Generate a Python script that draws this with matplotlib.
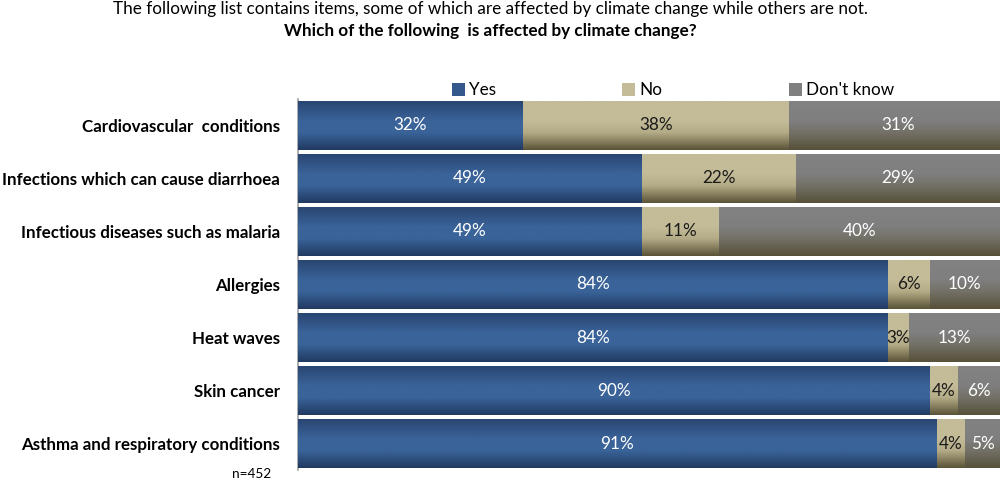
import matplotlib
matplotlib.use("Agg")
import matplotlib.pyplot as plt
import numpy as np
from matplotlib.colors import LinearSegmentedColormap
from matplotlib.patches import Patch

categories = ["Cardiovascular  conditions",
              "Infections which can cause diarrhoea",
              "Infectious diseases such as malaria",
              "Allergies",
              "Heat waves",
              "Skin cancer",
              "Asthma and respiratory conditions"]
yes = [32, 49, 49, 84, 84, 90, 91]
no = [38, 22, 11, 6, 3, 4, 4]
dont_know = [31, 29, 40, 10, 13, 6, 5]
series_names = ["Yes", "No", "Don't know"]

plt.rcParams['font.family'] = ['Lato', 'DejaVu Sans']

# gradient stops (top -> middle -> bottom)
grads = {
    "Yes": ["#2a4672", "#3a6399", "#3a6399", "#213a62"],
    "No": ["#c4bc98", "#c4bc98", "#b3ab86", "#5b5337"],
    "Don't know": ["#828282", "#7f7f7f", "#737066", "#57513a"],
}
solid = {"Yes": "#35588c", "No": "#c4bc98", "Don't know": "#7f7f7f"}
txtcol = {"Yes": "white", "No": "#1a1a1a", "Don't know": "white"}

fig = plt.figure(figsize=(10, 4.8), dpi=100)
ax = fig.add_axes([0.298, 0.0208, 0.702, 0.773])

y = np.arange(len(categories))
h = 0.92
left = np.zeros(len(categories))
grad_img = np.linspace(0, 1, 100).reshape(-1, 1)
for name, vals in zip(series_names, [yes, no, dont_know]):
    cmap = LinearSegmentedColormap.from_list(name, list(zip([0, 0.4, 0.65, 1.0], grads[name])))
    bars = ax.barh(y, vals, left=left, height=h, color=solid[name], edgecolor="none", zorder=2)
    for b, v, l in zip(bars, vals, left):
        x0, y0 = b.get_x(), b.get_y()
        im = ax.imshow(grad_img, cmap=cmap, aspect='auto',
                       extent=[x0, x0 + b.get_width(), y0 + b.get_height(), y0],
                       origin='upper', zorder=3, interpolation='bilinear')
        im.set_clip_path(b)
        ax.text(l + v / 2, b.get_y() + b.get_height() / 2, f"{v}%",
                ha='center', va='center', color=txtcol[name], fontsize=12.3, zorder=4)
    left = left + np.array(vals)

ax.set_xlim(0, 100)
ax.set_ylim(len(categories) - 0.5, -0.5)
ax.set_yticks(y)
ax.set_yticklabels(categories, fontweight='bold', fontsize=12.2)
ax.tick_params(axis='y', length=0, pad=13)
ax.set_xticks([])
for s in ["top", "right", "bottom"]:
    ax.spines[s].set_visible(False)
ax.spines["left"].set_color("#a0a0a0")
ax.spines["left"].set_linewidth(1.2)

fig.text(0.49, 0.982, "The following list contains items, some of which are affected by climate change while others are not.",
         ha='center', va='center', fontsize=12.3)
fig.text(0.49, 0.936, "Which of the following  is affected by climate change?",
         ha='center', va='center', fontsize=12.3, fontweight='bold')

handles = [Patch(facecolor=solid[n], edgecolor='none') for n in series_names]
fig.legend(handles, series_names, loc='center', bbox_to_anchor=(0.673, 0.812), ncol=3,
           frameon=False, fontsize=12.3, handlelength=0.75, handleheight=0.75,
           handletextpad=0.25, columnspacing=7.4)

fig.text(0.232, 0.012, "n=452", ha='left', va='center', fontsize=9.8)

fig.savefig("out.png", dpi=100)
